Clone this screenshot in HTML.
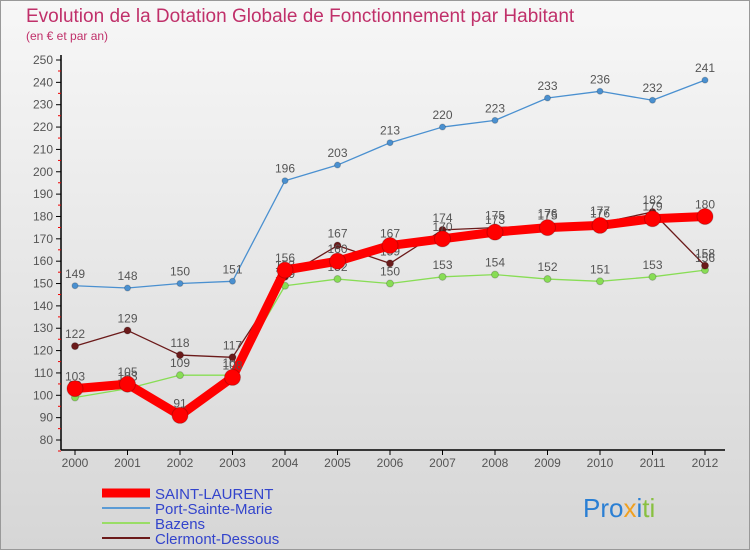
<!DOCTYPE html>
<html><head><meta charset="utf-8"><style>
body{margin:0;width:750px;height:550px;overflow:hidden;font-family:"Liberation Sans",sans-serif}
</style></head><body>
<svg id="c" width="750" height="550" xmlns="http://www.w3.org/2000/svg">
<defs><linearGradient id="bg" x1="0" y1="0" x2="0" y2="1"><stop offset="0" stop-color="#f7f7f7"/><stop offset="1" stop-color="#d6d6d6"/></linearGradient></defs>
<rect x="0.5" y="0.5" width="749" height="549" fill="url(#bg)" stroke="#999"/>
<text x="26" y="22" font-size="19" fill="#c0306a">Evolution de la Dotation Globale de Fonctionnement par Habitant</text>
<text x="26" y="40" font-size="12" fill="#c0306a">(en € et par an)</text>
<g id="axes"></g><g id="series"></g>
<g font-size="15">
<line x1="102" y1="493" x2="150" y2="493" stroke="#f00" stroke-width="9"/>
<text x="155" y="499" fill="#3344cc">SAINT-LAURENT</text>
<line x1="102" y1="508" x2="150" y2="508" stroke="#5b9bd5" stroke-width="2"/>
<text x="155" y="514" fill="#3344cc">Port-Sainte-Marie</text>
<line x1="102" y1="523" x2="150" y2="523" stroke="#99dd66" stroke-width="2"/>
<text x="155" y="529" fill="#3344cc">Bazens</text>
<line x1="102" y1="538" x2="150" y2="538" stroke="#6b1a1a" stroke-width="2"/>
<text x="155" y="544" fill="#3344cc">Clermont-Dessous</text>
</g>
<text x="583" y="517" font-size="26"><tspan fill="#2a7fd4">Pro</tspan><tspan fill="#f0a020">x</tspan><tspan fill="#2a7fd4">i</tspan><tspan fill="#88c040">ti</tspan></text>
</svg>
<script>
const years=[2000,2001,2002,2003,2004,2005,2006,2007,2008,2009,2010,2011,2012];
const saintLaurent=[103,105,91,108,156,160,167,170,173,175,176,179,180];
const portSainteMarie=[149,148,150,151,196,203,213,220,223,233,236,232,241];
const bazens=[99,103,109,109,149,152,150,153,154,152,151,153,156];
const clermont=[122,129,118,117,153,167,159,174,175,176,177,182,158];
const yTicks=[80,90,100,110,120,130,140,150,160,170,180,190,200,210,220,230,240,250];
const NS="http://www.w3.org/2000/svg";
const X=i=>75+i*52.5, Y=v=>440-(v-80)*380/170;
function mk(t,a,p){const e=document.createElementNS(NS,t);for(const k in a)e.setAttribute(k,a[k]);p.appendChild(e);return e;}
const ax=document.getElementById('axes'), sg=document.getElementById('series');
let l=mk('line',{x1:61,y1:55,x2:61,y2:450,stroke:'#000','stroke-width':1.5},ax);


l=mk('line',{x1:61,y1:450,x2:725,y2:450,stroke:'#000','stroke-width':1.5},ax);


yTicks.forEach(v=>{
 const y=Y(v);
 mk('line',{x1:56,y1:y,x2:61,y2:y,stroke:'#000'},ax);
 mk('line',{x1:58,y1:y+11,x2:61,y2:y+11,stroke:'#e00'},ax);
 const t=mk('text',{x:53,y:y+4,'font-size':12,fill:'#555','text-anchor':'end'},ax);t.textContent=v;
 
 
});
years.forEach((yr,i)=>{
 mk('line',{x1:X(i),y1:450,x2:X(i),y2:455,stroke:'#000'},ax);
 const t=mk('text',{x:X(i),y:467,'font-size':12,fill:'#555','text-anchor':'middle'},ax);t.textContent=yr;
 
 
});
function series(d,color,w,r,name){
 const g=mk('g',{},sg);
 
 
 mk('polyline',{points:d.map((v,i)=>X(i)+','+Y(v)).join(' '),fill:'none',stroke:color,'stroke-width':w,'stroke-linejoin':'round'},g);
 d.forEach((v,i)=>{
  const c=mk('circle',{cx:X(i),cy:Y(v),r:r,fill:color,stroke:'rgba(0,0,0,0.2)'},g);
  
  
  const t=mk('text',{x:X(i),y:Y(v)-8,'font-size':12,fill:'#555','text-anchor':'middle'},g);t.textContent=v;
  
  
 });
}
series(portSainteMarie,'#4a90d0',1.3,3,'port-sainte-marie-line');
series(bazens,'#88dd55',1.3,3.5,'bazens-line');
series(clermont,'#6b1a1a',1.3,3.5,'clermont-dessous-line');
series(saintLaurent,'#ff0000',9,8,'saint-laurent-line');
</script>
</body></html>
